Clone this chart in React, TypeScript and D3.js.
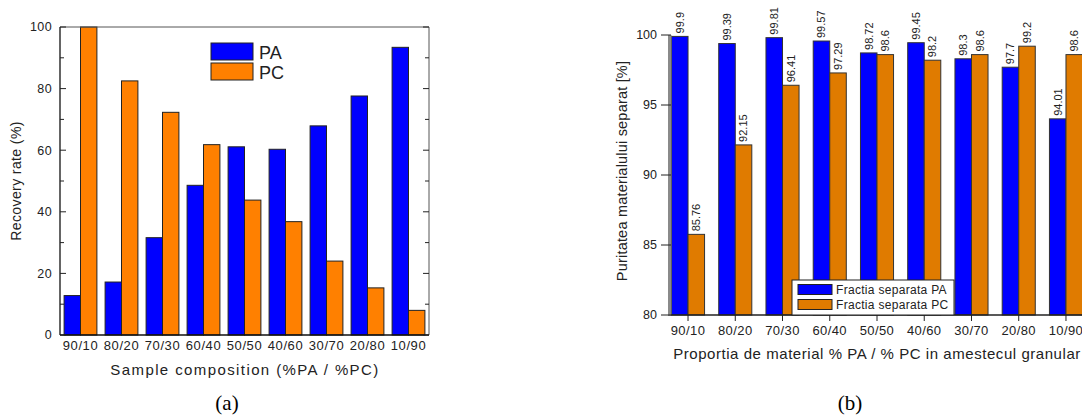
import React from "react";
import * as d3 from "d3";

const categories = ["90/10", "80/20", "70/30", "60/40", "50/50", "40/60", "30/70", "20/80", "10/90"];

// Chart (a): recovery rate
const recoveryPA = [12.8, 17.2, 31.6, 48.6, 61.1, 60.3, 67.9, 77.6, 93.4];
const recoveryPC = [100, 82.5, 72.3, 61.8, 43.8, 36.8, 24.0, 15.3, 8.0];
const recoveryTicks = [0, 20, 40, 60, 80, 100];
const recoveryMinorTicks = [10, 30, 50, 70, 90];

// Chart (b): purity
const purityPA = [99.9, 99.39, 99.81, 99.57, 98.72, 99.45, 98.3, 97.7, 94.01];
const purityPC = [85.76, 92.15, 96.41, 97.29, 98.6, 98.2, 98.6, 99.2, 98.6];
const purityLabelsPA = ["99.9", "99.39", "99.81", "99.57", "98.72", "99.45", "98.3", "97.7", "94.01"];
const purityLabelsPC = ["85.76", "92.15", "96.41", "97.29", "98.6", "98.2", "98.6", "99.2", "98.6"];
const purityTicks = [80, 85, 90, 95, 100];

const SANS = "'Liberation Sans', Arial, sans-serif";
const SERIF = "'Liberation Serif', 'Times New Roman', serif";

function ChartA() {
  const L = 60, R = 429, T = 27, B = 335;
  const x = d3.scaleBand<string>().domain(categories).range([L, R]).paddingInner(0.2).paddingOuter(0.1);
  const y = d3.scaleLinear().domain([0, 100]).range([B, T]);
  const bw = x.bandwidth() / 2;
  return (
    <g>
      {categories.map((c, i) => (
        <g key={c}>
          <rect x={x(c)!} y={y(recoveryPA[i])} width={bw} height={B - y(recoveryPA[i])} fill="#0000ff" stroke="#222" strokeWidth={1} />
          <rect x={x(c)! + bw} y={y(recoveryPC[i])} width={bw} height={B - y(recoveryPC[i])} fill="#ff8000" stroke="#222" strokeWidth={1} />
        </g>
      ))}
      {/* frame */}
      <line x1={L} x2={R} y1={T} y2={T} stroke="#555" strokeWidth={1} />
      <line x1={R} x2={R} y1={T} y2={B} stroke="#555" strokeWidth={1} />
      <line x1={L} x2={L} y1={T} y2={B} stroke="#111" strokeWidth={1.3} />
      <line x1={L} x2={R} y1={B} y2={B} stroke="#111" strokeWidth={1.3} />
      {recoveryTicks.map((t) => (
        <g key={"t" + t}>
          <line x1={L} x2={L + 6} y1={y(t)} y2={y(t)} stroke="#222" />
          <line x1={R} x2={R - 6} y1={y(t)} y2={y(t)} stroke="#222" />
          <text x={L - 8} y={y(t)} dy="0.35em" textAnchor="end" fontFamily={SANS} fontSize={12.5} letterSpacing={0.4} fill="#222">{t}</text>
        </g>
      ))}
      {recoveryMinorTicks.map((t) => (
        <g key={"m" + t}>
          <line x1={L} x2={L + 4} y1={y(t)} y2={y(t)} stroke="#222" />
          <line x1={R} x2={R - 4} y1={y(t)} y2={y(t)} stroke="#222" />
        </g>
      ))}
      {categories.map((c) => (
        <text key={"l" + c} x={x(c)! + x.bandwidth() / 2} y={350} textAnchor="middle" fontFamily={SANS} fontSize={13} letterSpacing={0.6} fill="#222">{c}</text>
      ))}
      <text x={245} y={375} textAnchor="middle" fontFamily={SANS} fontSize={15} letterSpacing={1.4} fill="#222">Sample composition (%PA / %PC)</text>
      <text transform={`translate(21,181) rotate(-90)`} textAnchor="middle" fontFamily={SANS} fontSize={14} letterSpacing={0.4} fill="#222">Recovery rate (%)</text>
      {/* legend */}
      <rect x={211} y={43} width={42} height={17} fill="#0000ff" stroke="#222" />
      <rect x={211} y={63} width={42} height={17} fill="#ff8000" stroke="#222" />
      <text x={259} y={58.5} fontFamily={SANS} fontSize={18} fill="#222">PA</text>
      <text x={259} y={78.5} fontFamily={SANS} fontSize={18} fill="#222">PC</text>
      <text x={227} y={410} textAnchor="middle" fontFamily={SERIF} fontSize={21} fill="#000">(a)</text>
    </g>
  );
}

function ChartB() {
  const L = 671, T = 35, B = 315;
  const x = d3.scaleBand<string>().domain(categories).range([664.4, 1089.6]).paddingInner(0.3).paddingOuter(0.15);
  const y = d3.scaleLinear().domain([80, 100]).range([B, T]);
  const bw = x.bandwidth() / 2;
  const blue = "#0000ff";
  const orange = "#e07b00";
  return (
    <g>
      {categories.map((c, i) => {
        const x0 = x(c)!;
        const yA = y(purityPA[i]);
        const yC = y(purityPC[i]);
        return (
          <g key={c}>
            <rect x={x0} y={yA} width={bw} height={B - yA} fill={blue} stroke="#333" strokeWidth={1} />
            <rect x={x0 + bw} y={yC} width={bw} height={B - yC} fill={orange} stroke="#333" strokeWidth={1} />
            <text transform={`translate(${x0 + bw / 2},${yA - 3}) rotate(-90)`} dy="0.35em" fontFamily={SANS} fontSize={11} fill="#222">{purityLabelsPA[i]}</text>
            <text transform={`translate(${x0 + bw * 1.5},${yC - 3}) rotate(-90)`} dy="0.35em" fontFamily={SANS} fontSize={11} fill="#222">{purityLabelsPC[i]}</text>
          </g>
        );
      })}
      <rect x={668} y={T} width={3.5} height={B - T + 1} fill="#8a8a8a" />
      <line x1={L} x2={1082} y1={B} y2={B} stroke="#222" strokeWidth={1.3} />
      {purityTicks.map((t) => (
        <g key={"t" + t}>
          <line x1={L - 10} x2={L} y1={y(t)} y2={y(t)} stroke="#222" />
          <text x={657} y={y(t)} dy="0.35em" textAnchor="end" fontFamily={SANS} fontSize={12.5} fill="#222">{t}</text>
        </g>
      ))}
      {categories.map((c) => {
        const cx = x(c)! + x.bandwidth() / 2;
        return (
          <g key={"l" + c}>
            <line x1={cx} x2={cx} y1={B} y2={B + 6} stroke="#222" />
            <text x={cx} y={335} textAnchor="middle" fontFamily={SANS} fontSize={13} letterSpacing={0.4} fill="#222">{c}</text>
          </g>
        );
      })}
      <text x={877} y={359} textAnchor="middle" fontFamily={SANS} fontSize={15} letterSpacing={0.55} fill="#222">Proportia de material % PA / % PC in amestecul granular</text>
      <text transform={`translate(627,171) rotate(-90)`} textAnchor="middle" fontFamily={SANS} fontSize={14.5} letterSpacing={0.2} fill="#222">Puritatea materialului separat [%]</text>
      {/* legend */}
      <rect x={792} y={280} width={162} height={35} fill="#fff" stroke="#222" />
      <rect x={798} y={284.5} width={34} height={10} fill={blue} stroke="#222" />
      <rect x={798} y={299.5} width={34} height={10} fill={orange} stroke="#222" />
      <text x={836} y={293.5} fontFamily={SANS} fontSize={12} letterSpacing={0.3} fill="#222">Fractia separata PA</text>
      <text x={836} y={308.5} fontFamily={SANS} fontSize={12} letterSpacing={0.3} fill="#222">Fractia separata PC</text>
      <text x={850} y={410} textAnchor="middle" fontFamily={SERIF} fontSize={21} fill="#000">(b)</text>
    </g>
  );
}

export default function App() {
  return (
    <svg width={1082} height={416} style={{ position: "absolute", left: 0, top: 0, background: "#fff" }}>
      <rect x={0} y={0} width={1082} height={416} fill="#fff" />
      <ChartA />
      <ChartB />
    </svg>
  );
}
